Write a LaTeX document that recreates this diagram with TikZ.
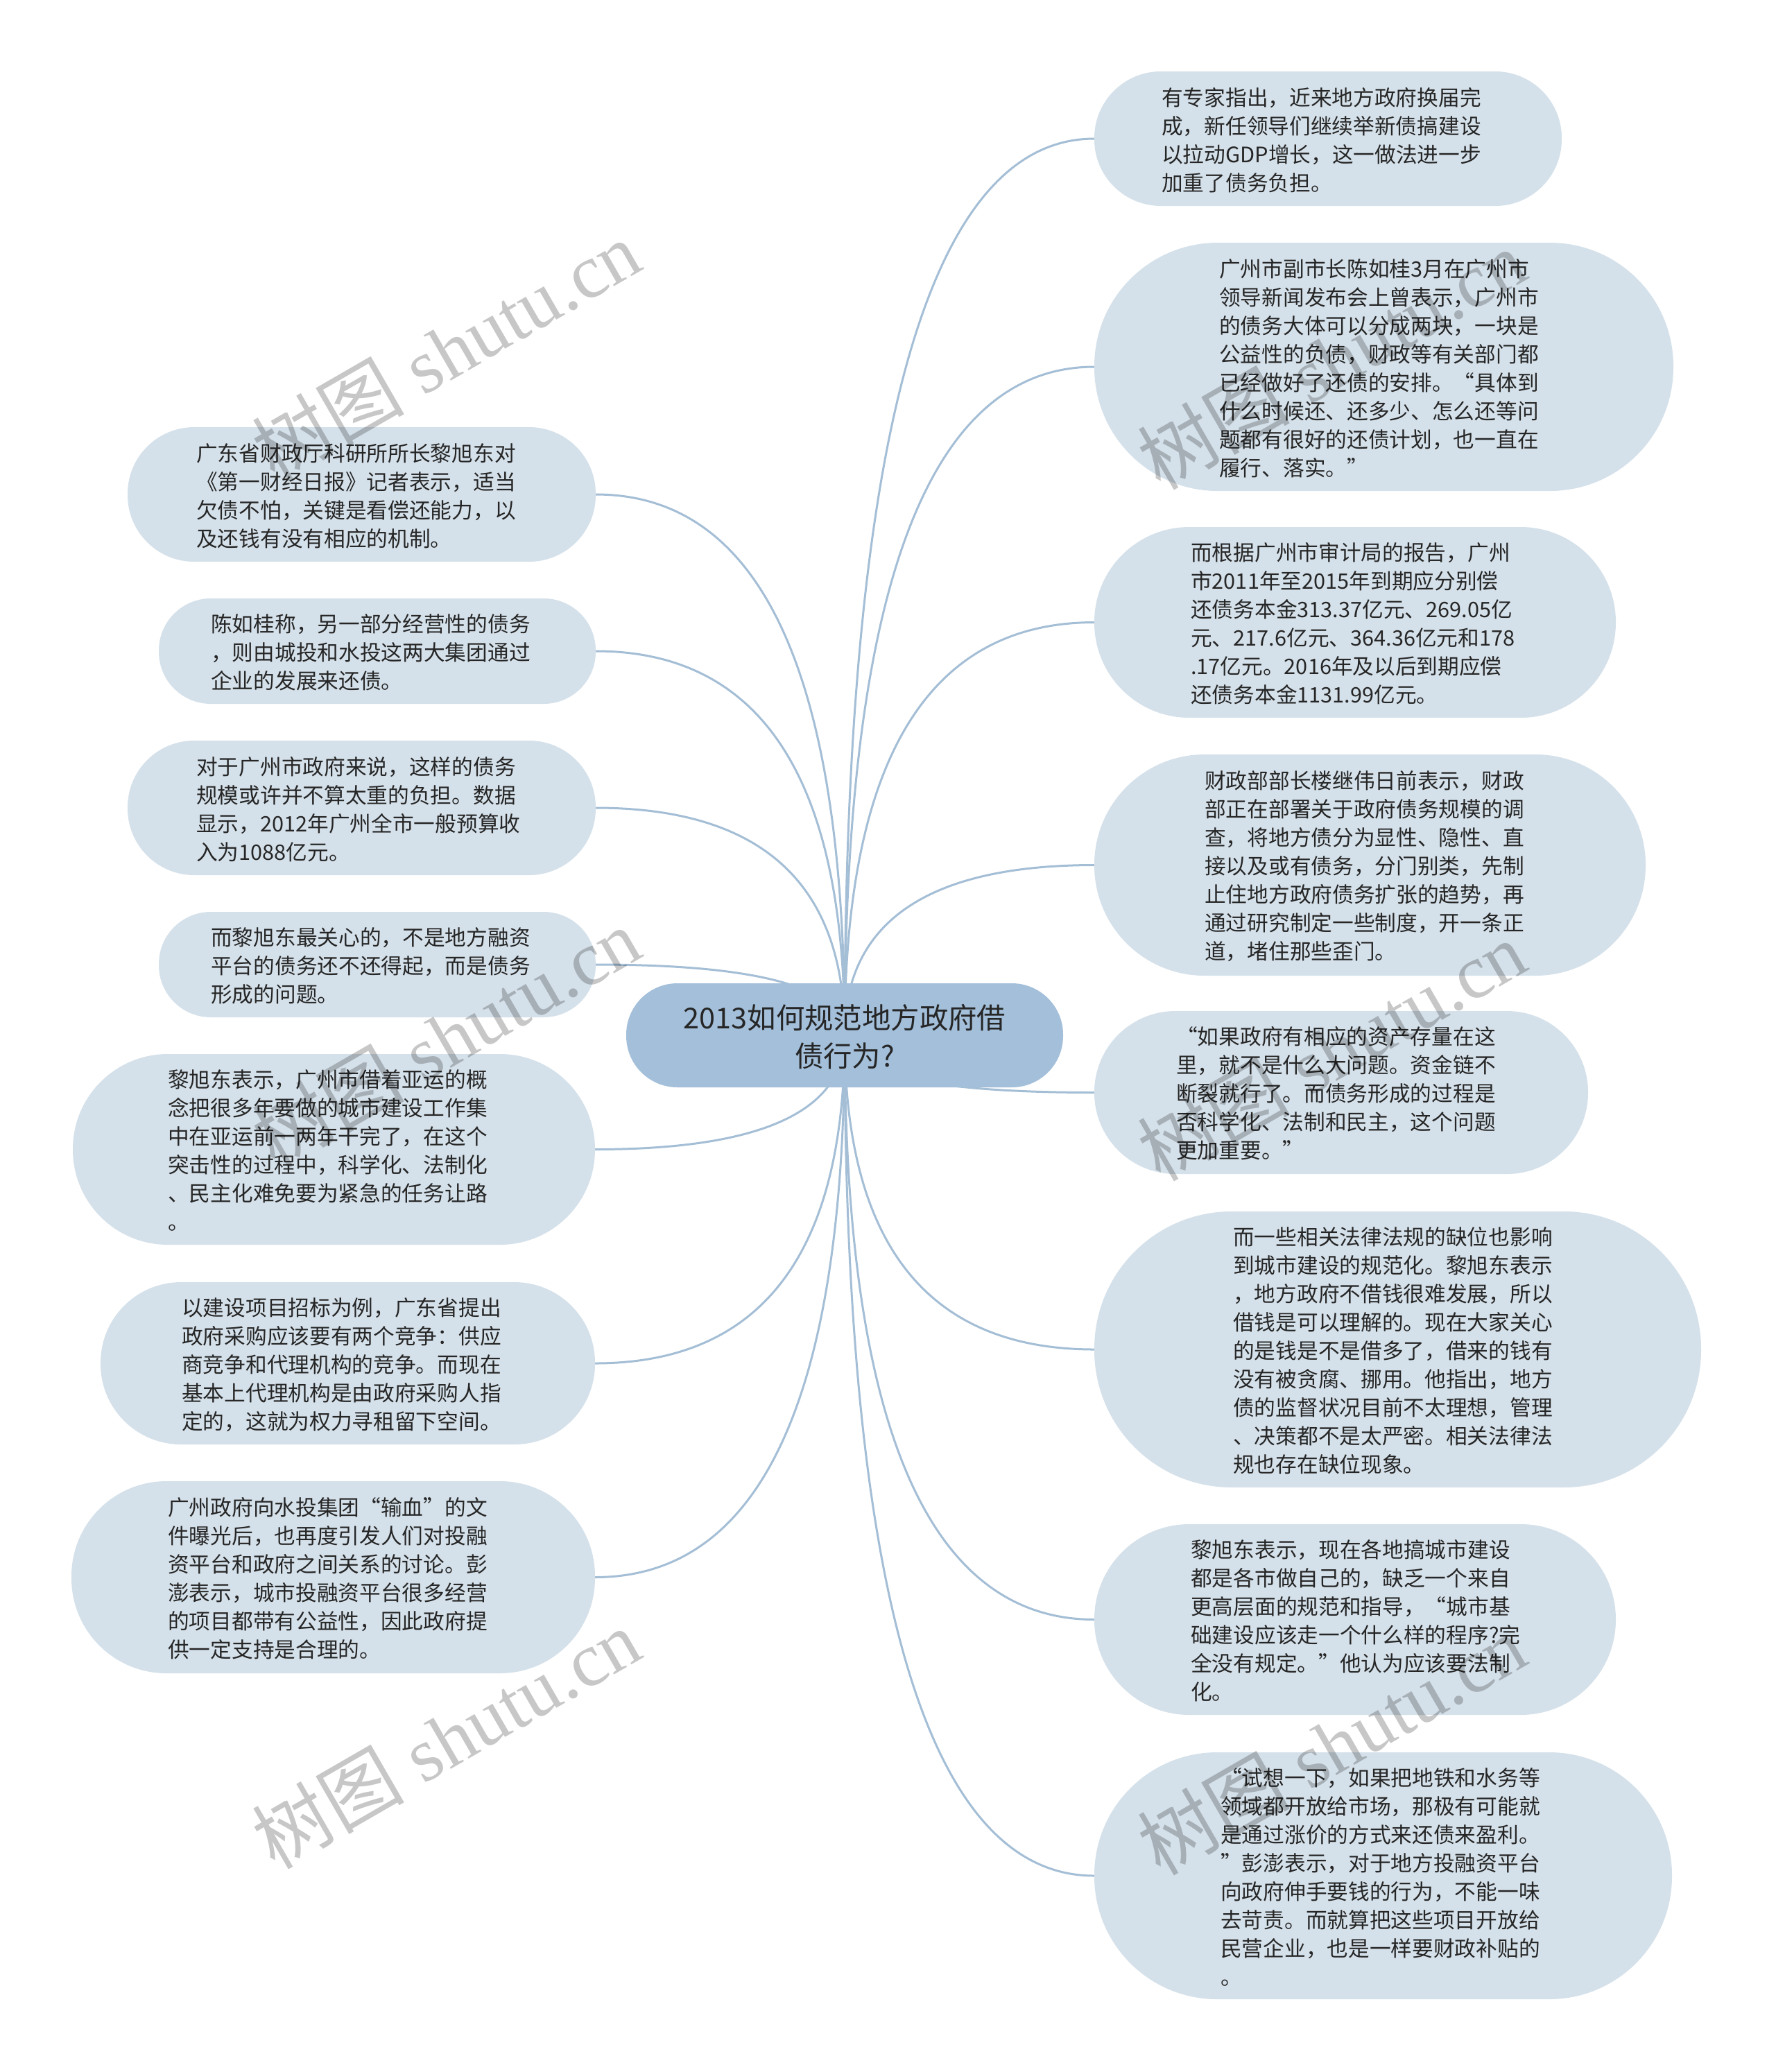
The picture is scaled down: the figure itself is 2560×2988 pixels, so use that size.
\documentclass[tikz,border=0pt]{standalone}
\usepackage{fontspec}
\setmainfont{Noto Sans CJK SC}
\newfontfamily\wmlatin{Liberation Serif}
\usetikzlibrary{backgrounds,calc}
\definecolor{boxfill}{HTML}{D5E1EA}
\definecolor{rootfill}{HTML}{A3BFDA}
\definecolor{linkcol}{HTML}{A4BED6}
\definecolor{txt}{HTML}{262626}
\begin{document}
\begin{tikzpicture}[x=1pt,y=-1pt,
  leaf/.style={fill=boxfill, draw=none, inner sep=0pt, outer sep=0pt},
  leaftext/.style={anchor=west, align=left, inner sep=0pt,
    font=\fontsize{30.7}{41}\selectfont, text=txt},
  link/.style={draw=linkcol, line width=3pt,
    to path={.. controls ($(\tikztostart)!0.6667!(\tikztostart|-\tikztotarget)$)
      and ($(\tikztotarget)!0.6667!(\tikztostart|-\tikztotarget)$) .. (\tikztotarget)}},
  wm/.style={rotate=30, text=black, opacity=0.22, inner sep=0pt,
    font=\wmlatin\fontsize{110}{110}\selectfont}
]
\useasboundingbox (0,0) rectangle (2560,2988);

% ---------- root ----------
\node[fill=rootfill, rounded corners=74pt, minimum width=630pt, minimum height=150pt,
  inner sep=0pt] (root) at (1218,1493) {};
\node[align=center, inner sep=0pt, font=\fontsize{41.4}{55}\selectfont, text=txt]
  (roott) at (1218,1495) {2013如何规范地方政府借\\债行为?};

% ---------- right side ----------
\node[leaf, rounded corners=96pt, minimum width=674pt, minimum height=194pt] (r1) at (1915,200) {};
\node[leaftext] (r1t) at (1675,202) {有专家指出，近来地方政府换届完\\成，新任领导们继续举新债搞建设\\以拉动GDP增长，这一做法进一步\\加重了债务负担。};

\node[leaf, rounded corners=178pt, minimum width=835pt, minimum height=358pt] (r2) at (1995.5,529) {};
\node[leaftext] (r2t) at (1758,531) {广州市副市长陈如桂3月在广州市\\领导新闻发布会上曾表示，广州市\\的债务大体可以分成两块，一块是\\公益性的负债，财政等有关部门都\\已经做好了还债的安排。“具体到\\什么时候还、还多少、怎么还等问\\题都有很好的还债计划，也一直在\\履行、落实。”};

\node[leaf, rounded corners=137pt, minimum width=752pt, minimum height=275pt] (r3) at (1954,897.5) {};
\node[leaftext] (r3t) at (1717,899) {而根据广州市审计局的报告，广州\\市2011年至2015年到期应分别偿\\还债务本金313.37亿元、269.05亿\\元、217.6亿元、364.36亿元和178\\.17亿元。2016年及以后到期应偿\\还债务本金1131.99亿元。};

\node[leaf, rounded corners=159pt, minimum width=795pt, minimum height=319pt] (r4) at (1975.5,1247.5) {};
\node[leaftext] (r4t) at (1737,1249) {财政部部长楼继伟日前表示，财政\\部正在部署关于政府债务规模的调\\查，将地方债分为显性、隐性、直\\接以及或有债务，分门别类，先制\\止住地方政府债务扩张的趋势，再\\通过研究制定一些制度，开一条正\\道，堵住那些歪门。};

\node[leaf, rounded corners=117pt, minimum width=712pt, minimum height=235pt] (r5) at (1934,1575.5) {};
\node[leaftext] (r5t) at (1696,1577) {“如果政府有相应的资产存量在这\\里，就不是什么大问题。资金链不\\断裂就行了。而债务形成的过程是\\否科学化、法制和民主，这个问题\\更加重要。”};

\node[leaf, rounded corners=198pt, minimum width=875pt, minimum height=398pt] (r6) at (2015.5,1946) {};
\node[leaftext] (r6t) at (1778,1948) {而一些相关法律法规的缺位也影响\\到城市建设的规范化。黎旭东表示\\，地方政府不借钱很难发展，所以\\借钱是可以理解的。现在大家关心\\的是钱是不是借多了，借来的钱有\\没有被贪腐、挪用。他指出，地方\\债的监督状况目前不太理想，管理\\、决策都不是太严密。相关法律法\\规也存在缺位现象。};

\node[leaf, rounded corners=137pt, minimum width=752pt, minimum height=275pt] (r7) at (1954,2335.5) {};
\node[leaftext] (r7t) at (1717,2337) {黎旭东表示，现在各地搞城市建设\\都是各市做自己的，缺乏一个来自\\更高层面的规范和指导，“城市基\\础建设应该走一个什么样的程序?完\\全没有规定。”他认为应该要法制\\化。};

\node[leaf, rounded corners=177pt, minimum width=833pt, minimum height=356pt] (r8) at (1994.5,2705) {};
\node[leaftext] (r8t) at (1760,2707) {“试想一下，如果把地铁和水务等\\领域都开放给市场，那极有可能就\\是通过涨价的方式来还债来盈利。\\”彭澎表示，对于地方投融资平台\\向政府伸手要钱的行为，不能一味\\去苛责。而就算把这些项目开放给\\民营企业，也是一样要财政补贴的\\。};

% ---------- left side ----------
\node[leaf, rounded corners=96pt, minimum width=675pt, minimum height=194pt] (l1) at (521.5,713) {};
\node[leaftext] (l1t) at (283,715) {广东省财政厅科研所所长黎旭东对\\《第一财经日报》记者表示，适当\\欠债不怕，关键是看偿还能力，以\\及还钱有没有相应的机制。};

\node[leaf, rounded corners=75pt, minimum width=630pt, minimum height=152pt] (l2) at (544,939) {};
\node[leaftext] (l2t) at (304,941) {陈如桂称，另一部分经营性的债务\\，则由城投和水投这两大集团通过\\企业的发展来还债。};

\node[leaf, rounded corners=96pt, minimum width=675pt, minimum height=194pt] (l3) at (521.5,1165) {};
\node[leaftext] (l3t) at (283,1167) {对于广州市政府来说，这样的债务\\规模或许并不算太重的负担。数据\\显示，2012年广州全市一般预算收\\入为1088亿元。};

\node[leaf, rounded corners=75pt, minimum width=630pt, minimum height=152pt] (l4) at (544,1391) {};
\node[leaftext] (l4t) at (304,1393) {而黎旭东最关心的，不是地方融资\\平台的债务还不还得起，而是债务\\形成的问题。};

\node[leaf, rounded corners=137pt, minimum width=753pt, minimum height=275pt] (l5) at (481.5,1657.5) {};
\node[leaftext] (l5t) at (242,1659) {黎旭东表示，广州市借着亚运的概\\念把很多年要做的城市建设工作集\\中在亚运前一两年干完了，在这个\\突击性的过程中，科学化、法制化\\、民主化难免要为紧急的任务让路\\。};

\node[leaf, rounded corners=116pt, minimum width=713pt, minimum height=234pt] (l6) at (501.5,1966) {};
\node[leaftext] (l6t) at (262,1968) {以建设项目招标为例，广东省提出\\政府采购应该要有两个竞争：供应\\商竞争和代理机构的竞争。而现在\\基本上代理机构是由政府采购人指\\定的，这就为权力寻租留下空间。};

\node[leaf, rounded corners=137pt, minimum width=755pt, minimum height=277pt] (l7) at (480.5,2274.5) {};
\node[leaftext] (l7t) at (242,2276) {广州政府向水投集团“输血”的文\\件曝光后，也再度引发人们对投融\\资平台和政府之间关系的讨论。彭\\澎表示，城市投融资平台很多经营\\的项目都带有公益性，因此政府提\\供一定支持是合理的。};

% ---------- connectors ----------
\begin{pgfonlayer}{background}
\fill[white] (0,0) rectangle (2560,2988);
\foreach \t in {r1,r2,r3,r4,r5,r6,r7,r8} {
  \draw[link] (root.center) to (\t.west);
}
\foreach \t in {l1,l2,l3,l4,l5,l6,l7} {
  \draw[link] (root.center) to (\t.east);
}
\end{pgfonlayer}

% ---------- watermarks ----------
\node[wm] (wm1) at (643,505) {\fontspec{Noto Sans CJK SC}树图\wmlatin{} shutu.cn};
\node[wm] (wm2) at (1920,518) {\fontspec{Noto Sans CJK SC}树图\wmlatin{} shutu.cn};
\node[wm] (wm3) at (643,1496) {\fontspec{Noto Sans CJK SC}树图\wmlatin{} shutu.cn};
\node[wm] (wm4) at (1920,1515) {\fontspec{Noto Sans CJK SC}树图\wmlatin{} shutu.cn};
\node[wm] (wm5) at (643,2507) {\fontspec{Noto Sans CJK SC}树图\wmlatin{} shutu.cn};
\node[wm] (wm6) at (1920,2516) {\fontspec{Noto Sans CJK SC}树图\wmlatin{} shutu.cn};
\end{tikzpicture}
\end{document}
